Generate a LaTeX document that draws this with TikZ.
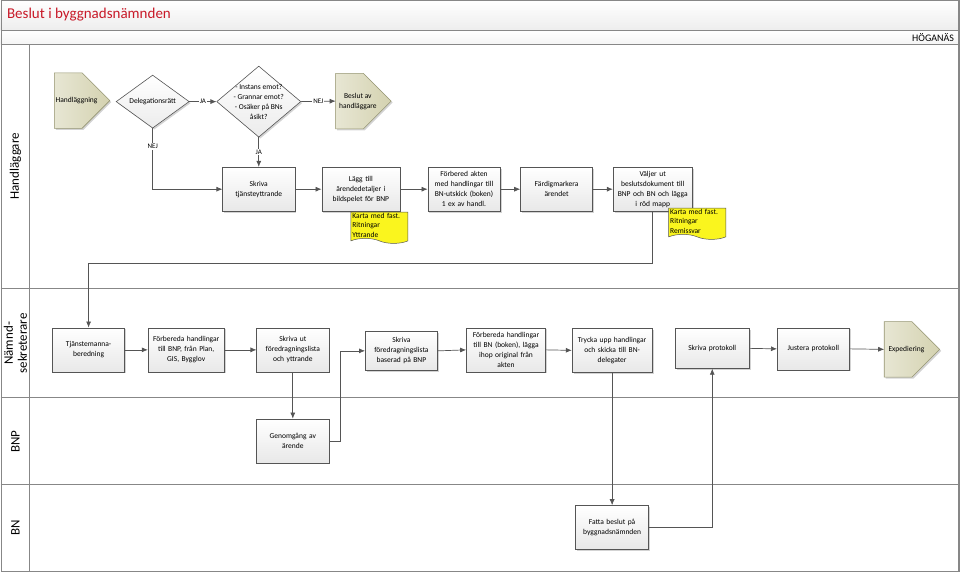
\documentclass[tikz,border=0pt]{standalone}
\usepackage{fontspec}
\setmainfont{Carlito}
\usepackage{tikz}
\usetikzlibrary{arrows.meta,positioning,shapes.geometric,shapes.symbols,shadows}
\tikzset{>={Latex[width=5pt,length=6pt]}}
\definecolor{linegray}{RGB}{85,85,85}
\definecolor{framegray}{RGB}{135,135,135}
\definecolor{titlered}{RGB}{200,25,40}
\definecolor{olivefill}{RGB}{212,210,176}
\definecolor{olivedark}{RGB}{150,150,115}
\definecolor{noteyellow}{RGB}{250,245,30}

\begin{document}
\begin{tikzpicture}[->, x=1pt, y=-1pt, font=\fontsize{7.5}{10}\selectfont]
	\tikzstyle{flow}=[draw=linegray, line width=0.7pt]
	\tikzstyle{lbl}=[fill=white, inner sep=1pt, font=\fontsize{7}{8}\selectfont]
	\tikzstyle{proc}=[draw=linegray, line width=0.6pt, top color=white, bottom color=gray!18, drop shadow={shadow xshift=1.5pt, shadow yshift=-1.5pt, opacity=0.35}, minimum width=72pt, minimum height=44pt, text width=70pt, inner sep=1pt, align=center]
	\tikzstyle{decision}=[diamond, draw=linegray, line width=0.6pt, top color=white, bottom color=gray!15, inner sep=0pt, drop shadow={shadow xshift=1.5pt, shadow yshift=-1.5pt, opacity=0.35}]
	\tikzstyle{terminal}=[minimum width=55pt, minimum height=55pt, inner sep=0pt]
	\tikzstyle{termshape}=[-, draw=olivedark, line width=0.6pt, left color=olivefill!55, right color=olivefill, drop shadow={shadow xshift=1.5pt, shadow yshift=-1.5pt, opacity=0.35}]
	\tikzstyle{note}=[tape, tape bend top=none, tape bend bottom=out and in, tape bend height=5pt, draw=linegray, line width=0.5pt, fill=noteyellow, text width=54pt, align=left, inner sep=1pt, minimum width=57pt, minimum height=30pt, font=\fontsize{7.5}{9.5}\selectfont]
	\tikzstyle{lane}=[rotate=90, align=center, font=\fontsize{13}{14}\selectfont]

	% ram och banor
	\fill[top color=white, bottom color=gray!14] (0,0) rectangle (958,30);
	\fill[top color=white, bottom color=gray!8] (0,30) rectangle (958,44);
	\draw[-, framegray, line width=1pt] (0,30) -- (958,30) (0,44) -- (958,44);
	\draw[-, framegray, line width=1pt] (29,44) -- (29,571);
	\draw[-, framegray, line width=1pt] (0,288) -- (958,288) (0,397) -- (958,397) (0,484) -- (958,484);
	\draw[-, framegray, line width=1.4pt] (0.7,0.7) rectangle (957.5,571);

	\node[anchor=west, text=titlered, font=\fontsize{15}{18}\selectfont] (title) at (3,15) {Beslut i byggnadsnämnden};
	\node[anchor=east, font=\fontsize{10}{12}\selectfont] (org) at (956,37) {HÖGANÄS};

	\node[lane] (lane-hl) at (15,166) {Handläggare};
	\node[lane] (lane-ns) at (15,343) {Nämnd-\\sekreterare};
	\node[lane] (lane-bnp) at (15,441) {BNP};
	\node[lane] (lane-bn) at (15,527) {BN};

	% handläggare
	\node[terminal] (start) at (81.5,100.5) {};
	\draw[termshape] (start.north west) -- (start.north) -- (start.east) -- (start.south) -- (start.south west) -- cycle;
	\node (start-txt) at ([xshift=-5.5pt]start.center) {Handläggning};
	\node[decision, minimum width=73pt, minimum height=53pt] (deleg) at (152,101.5) {};
	\node (deleg-txt) at (deleg) {Delegationsrätt};
	\node[decision, minimum width=84pt, minimum height=71pt] (fraga) at (258,101.5) {};
	\node[align=center] (fraga-txt) at (fraga) {- Instans emot?\\- Grannar emot?\\- Osäker på BNs\\åsikt?};
	\node[terminal] (beslut) at (362.5,101) {};
	\draw[termshape] (beslut.north west) -- (beslut.north) -- (beslut.east) -- (beslut.south) -- (beslut.south west) -- cycle;
	\node[align=center] (beslut-txt) at ([xshift=-5.5pt]beslut.center) {Beslut av\\handläggare};

	\node[proc] (tjanst) at (258,189) {Skriva\\tjänsteyttrande};
	\node[proc, minimum width=78pt, text width=76pt] (lagg) at (360,189) {Lägg till\\ärendedetaljer i\\bildspelet för BNP};
	\node[proc] (akten) at (463,189) {Förbered akten\\med handlingar till\\BN-utskick  (boken)\\1 ex av handl.};
	\node[proc] (fardig) at (555.5,189) {Färdigmarkera\\ärendet};
	\node[proc, minimum width=77pt, text width=77pt] (valjer) at (651.5,189) {Väljer ut\\beslutsdokument till\\BNP och BN och lägga\\i röd mapp};

	\node[note] (note-bnp) at (378.5,225) {Karta med fast.\\Ritningar\\Yttrande};
	\node[note] (note-bn) at (696,221) {Karta med fast.\\Ritningar\\Remissvar};

	% nämndsekreterare
	\node[proc] (tjb) at (88,349.5) {Tjänstemanna-\\beredning};
	\node[proc, minimum width=75pt, text width=74pt] (forb-bnp) at (185.5,349.5) {Förbereda handlingar\\till BNP, från Plan,\\GIS, Bygglov};
	\node[proc] (skrivut) at (292,349.5) {Skriva ut\\föredragningslista\\och yttrande};
	\node[proc, minimum height=39pt] (skrivfd) at (400.5,350.5) {Skriva\\föredragningslista\\baserad på BNP};
	\node[proc, minimum width=78pt, text width=77pt] (forb-bn) at (505,349.5) {Förbereda handlingar\\till BN (boken), lägga\\ihop original från\\akten};
	\node[proc, minimum width=80pt, text width=78pt] (trycka) at (611,350) {Trycka upp handlingar\\och skicka till BN-\\delegater};
	\node[proc, minimum width=74pt, minimum height=40pt] (skrivprot) at (711,348) {Skriva protokoll};
	\node[proc, minimum height=42pt] (justera) at (812,348.5) {Justera protokoll};
	\node[terminal] (exped) at (910.5,349) {};
	\draw[termshape] (exped.north west) -- (exped.north) -- (exped.east) -- (exped.south) -- (exped.south west) -- cycle;
	\node (exped-txt) at ([xshift=-5.5pt]exped.center) {Expediering};

	% BNP och BN
	\node[proc] (genomg) at (292,440.5) {Genomgång av\\ärende};
	\node[proc, minimum width=73pt] (fatta) at (611,527) {Fatta beslut på\\byggnadsnämnden};

	% flöden
	\draw[flow] (deleg.east) -- node[lbl] {JA} (fraga.west);
	\draw[flow] (fraga.east) -- node[lbl] {NEJ} (beslut.west);
	\draw[flow] (deleg.south) |- node[lbl, pos=0.15] {NEJ} (tjanst.west);
	\draw[flow] (fraga.south) -- node[lbl] {JA} (tjanst.north);
	\draw[flow] (tjanst.east) -- (lagg.west);
	\draw[flow] (lagg.east) -- (akten.west);
	\draw[flow] (akten.east) -- (fardig.west);
	\draw[flow] (fardig.east) -- (valjer.west);
	\draw[flow] (valjer.south) -- ++(0,52) -| (tjb.north);

	\draw[flow] (tjb.east) -- (forb-bnp.west);
	\draw[flow] (forb-bnp.east) -- (skrivut.west);
	\draw[flow] (skrivut.south) -- (genomg.north);
	\draw[flow] (genomg.east) -- ++(11,0) |- (skrivfd.west);
	\draw[flow] (skrivfd.east) -- (forb-bn.west);
	\draw[flow] (forb-bn.east) -- (trycka.west);
	\draw[flow] (trycka.south) -- (fatta.north);
	\draw[flow] (fatta.east) -| (skrivprot.south);
	\draw[flow] (skrivprot.east) -- (justera.west);
	\draw[flow] (justera.east) -- (exped.west);

	\end{tikzpicture}
\end{document}
